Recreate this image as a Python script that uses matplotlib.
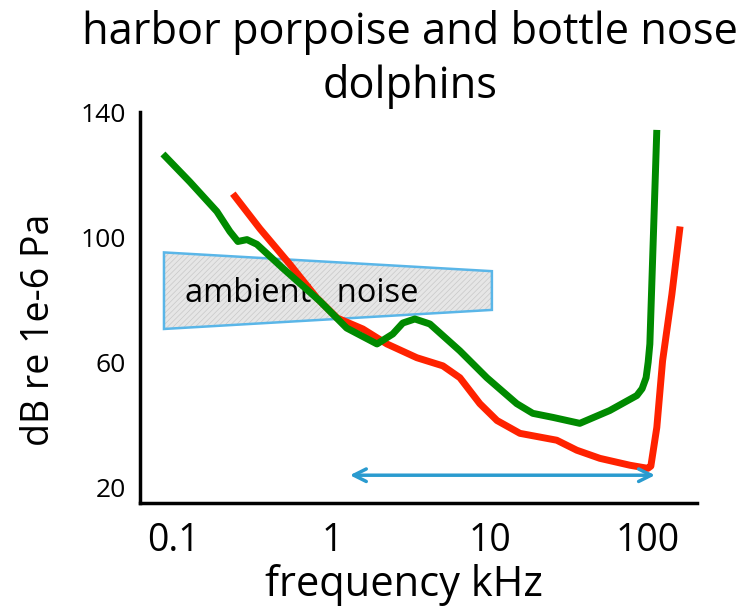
import numpy as np
import matplotlib
matplotlib.use("Agg")
import matplotlib.pyplot as plt
from matplotlib.patches import Polygon

plt.rcParams['font.family'] = ['Open Sans', 'DejaVu Sans']
plt.rcParams['hatch.linewidth'] = 0.5

# audiogram readings (kHz, dB re 1e-6 Pa)
porpoise_f = [0.0852, 0.126, 0.187, 0.226, 0.254, 0.290, 0.335, 0.490, 0.840, 1.24,
              1.93, 2.43, 2.81, 3.35, 4.17, 6.46, 9.57, 14.8, 18.7, 25.1, 37.1,
              57.4, 85.2, 92.0, 97.5, 100.5, 103.0, 108.0, 114.0]
porpoise_db = [126.6, 117.7, 108.2, 101.8, 98.6, 99.2, 97.7, 90.0, 79.5, 70.9,
               65.8, 69.0, 72.5, 73.8, 72.2, 63.6, 55.0, 46.7, 43.6, 42.3, 40.4,
               44.5, 49.3, 51.5, 55.0, 60.0, 65.8, 97.7, 134.3]

dolphin_f = [0.236, 0.350, 0.542, 0.804, 1.08, 1.57, 2.23, 3.45, 5.04, 6.46, 8.64,
             11.1, 15.5, 26.5, 35.5, 49.7, 76.9, 100.0, 104.5, 114.0, 124.0, 142.0, 160.0]
dolphin_db = [113.9, 102.7, 91.3, 80.5, 74.1, 70.6, 65.8, 61.4, 58.8, 55.0, 46.7,
              41.3, 37.2, 35.0, 31.8, 29.2, 27.0, 26.0, 26.7, 39.1, 60.4, 81.7, 103.4]

# ambient noise band corners
noise_f = [0.0865, 10.3, 10.3, 0.0865]
noise_db = [95.1, 89.1, 76.7, 70.6]

# echolocation range arrow
arrow_f = [1.30, 111.0]
arrow_db = 23.8

xticks = [0.1, 1, 10, 100]
xticklabels = ['0.1', '1', '10', '100']
yticks = [20, 60, 100, 140]

fig = plt.figure(figsize=(7.42, 6.16), dpi=100)
ax = fig.add_axes([0.1887, 0.1834, 0.7503, 0.6346])

ax.set_xscale('log')
ax.set_xlim(0.061, 204)
ax.set_ylim(14.9, 139.4)

corners = list(zip(noise_f, noise_db))
ax.add_patch(Polygon(corners, closed=True, facecolor='#e6e6e6', edgecolor='#c8c8c8',
                     linewidth=0, hatch='//////', zorder=1))
ax.add_patch(Polygon(corners, closed=True, fill=False, edgecolor='#5ab6e8',
                     linewidth=1.8, zorder=1.5))
ax.text(0.117, 82.1, 'ambient   noise', fontsize=23.5, va='center', ha='left', zorder=2)

ax.plot(dolphin_f, dolphin_db, color='#ff2200', linewidth=5, solid_joinstyle='round',
        solid_capstyle='butt', zorder=3)
ax.plot(porpoise_f, porpoise_db, color='#008a00', linewidth=5, solid_joinstyle='round',
        solid_capstyle='butt', zorder=4)

ax.annotate('', xy=(arrow_f[1], arrow_db), xytext=(arrow_f[0], arrow_db),
            arrowprops=dict(arrowstyle='<->,head_length=0.9,head_width=0.45',
                            color='#2a9bcf', linewidth=2.5, shrinkA=0, shrinkB=0),
            zorder=5)

ax.set_xticks(xticks)
ax.set_xticklabels(xticklabels)
ax.minorticks_off()
ax.set_yticks(yticks)
ax.tick_params(axis='x', length=0, pad=14, labelsize=27)
ax.tick_params(axis='y', length=0, pad=10, labelsize=19)

for side in ['top', 'right']:
    ax.spines[side].set_visible(False)
for side in ['left', 'bottom']:
    ax.spines[side].set_linewidth(2.5)
    ax.spines[side].set_color('black')

ax.set_xlabel('frequency kHz', fontsize=30)
ax.xaxis.set_label_coords(0.474, -0.155)
ax.set_ylabel('dB re 1e-6 Pa', fontsize=27)
ax.yaxis.set_label_coords(-0.147, 0.442)

# two-line title, one text per line
fig.text(0.5526, 0.947, 'harbor porpoise and bottle nose', fontsize=31.2,
         ha='center', va='center')
fig.text(0.5526, 0.860, 'dolphins', fontsize=31.2, ha='center', va='center')

fig.savefig('out.png', dpi=100)
